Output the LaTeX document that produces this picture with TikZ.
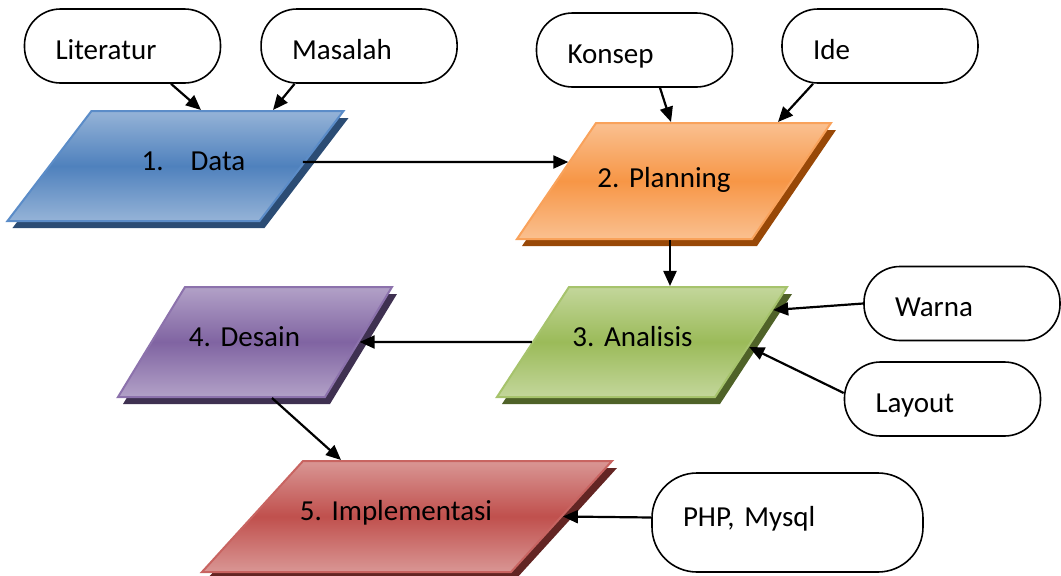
\documentclass[tikz,border=0pt]{standalone}
\usepackage{fontspec}
\setmainfont{Carlito}
\frenchspacing
\usetikzlibrary{positioning,shapes.geometric,shadows,arrows.meta}

\definecolor{dataLight}{HTML}{95B3D7}
\definecolor{dataMid}{HTML}{4F81BD}
\definecolor{dataLine}{HTML}{5B8CC8}
\definecolor{dataDark}{HTML}{2B4C74}
\definecolor{planLight}{HTML}{FAC090}
\definecolor{planMid}{HTML}{F79646}
\definecolor{planLine}{HTML}{F9A25B}
\definecolor{planDark}{HTML}{984807}
\definecolor{anaLight}{HTML}{C3D69B}
\definecolor{anaMid}{HTML}{9BBB59}
\definecolor{anaLine}{HTML}{A6C36C}
\definecolor{anaDark}{HTML}{4F6228}
\definecolor{desLight}{HTML}{B2A1C7}
\definecolor{desMid}{HTML}{8064A2}
\definecolor{desLine}{HTML}{8C72AC}
\definecolor{desDark}{HTML}{3F3151}
\definecolor{impLight}{HTML}{D99694}
\definecolor{impMid}{HTML}{C0504D}
\definecolor{impLine}{HTML}{C86461}
\definecolor{impDark}{HTML}{632523}

\begin{document}
\begin{tikzpicture}[x=1pt, y=-1pt,
		every node/.style={font=\fontsize{29}{35}\selectfont, text=black},
		term/.style={rectangle, rounded corners=36pt, draw=black, line width=1.6pt, fill=white,
			minimum height=74pt, text width=134pt, text height=26pt, text depth=0pt,
			inner xsep=31pt, inner ysep=0pt, align=left},
		flow/.style={trapezium, line width=2pt, inner sep=0pt, align=center,
			draw=#1Line, top color=#1Light, bottom color=#1Light, middle color=#1Mid,
			general shadow={fill=#1Dark, shadow xshift=5pt, shadow yshift=-7pt}},
		>={Triangle[length=15pt, width=13pt]},
		link/.style={->, line width=2.2pt}
]

\useasboundingbox (0,0) rectangle (1061,576);

\node [flow=data, trapezium left angle=52.63, trapezium right angle=127.37,
	text width=168pt, text height=59pt, text depth=51pt] (Data) at (175.5,166) {\hspace*{36pt}1.\hspace{27pt}Data};
\node [flow=plan, trapezium left angle=55.75, trapezium right angle=124.25,
	text width=156pt, text height=64pt, text depth=52pt] (Plan) at (674,181) {\hspace*{-20pt}2. Planning};
\node [flow=ana, trapezium left angle=56.79, trapezium right angle=123.21,
	text width=146pt, text height=59pt, text depth=51pt] (Ana) at (642,342) {\hspace*{-19pt}3. Analisis};
\node [flow=des, trapezium left angle=58.66, trapezium right angle=121.34,
	text width=140pt, text height=59pt, text depth=51pt] (Des) at (255,342) {\hspace*{-21pt}4. Desain};
\node [flow=imp, trapezium left angle=47.7, trapezium right angle=132.3,
	text width=208pt, text height=59.5pt, text depth=51.5pt] (Imp) at (407,516.5) {\hspace*{-22pt}5. Implementasi};

\node [term] (Lit) at (122.5,46) {Literatur};
\node [term, right=39pt of Lit] (Mas) {Masalah};
\node [term] (Kon) at (634.5,50) {Konsep};
\node [term] (Ide) at (880,46) {Ide};
\node [term] (War) at (962,303.5) {Warna};
\node [term] (Lay) at (942.5,399) {Layout};
\node [term, rounded corners=45pt, minimum height=99pt, text width=209pt,
	text height=20pt, text depth=12pt] (Php) at (787.5,522.5) {PHP, Mysql};

\draw [link] ([xshift=48.5pt]Lit.south) -- ([xshift=25.5pt]Data.north);
\draw [link] ([xshift=-64.5pt]Mas.south) -- ([xshift=97.5pt]Data.north);
\draw [link] ([yshift=4pt]Data.east) -- ([xshift=13pt,yshift=19pt]Plan.west);
\draw [link] ([xshift=25.5pt]Kon.south) -- ([xshift=-3pt]Plan.north);
\draw [link] ([xshift=-67pt]Ide.south) -- ([xshift=104pt]Plan.north);
\draw [link] ([xshift=-4pt]Plan.south) -- ([xshift=-4pt]Plan.south |- Ana.north);
\draw [link] (War.west) -- ([xshift=21pt,yshift=32pt]Ana.east);
\draw [link] ([yshift=6pt]Lay.west) -- ([xshift=-3pt,yshift=-5pt]Ana.east);
\draw [link] (Ana.west) -- (Des.east);
\draw [link] ([xshift=17pt]Des.south) -- ([xshift=-66pt]Imp.north);
\draw [link] ([yshift=5pt]Php.west) -- (Imp.east);

\end{tikzpicture}
\end{document}
